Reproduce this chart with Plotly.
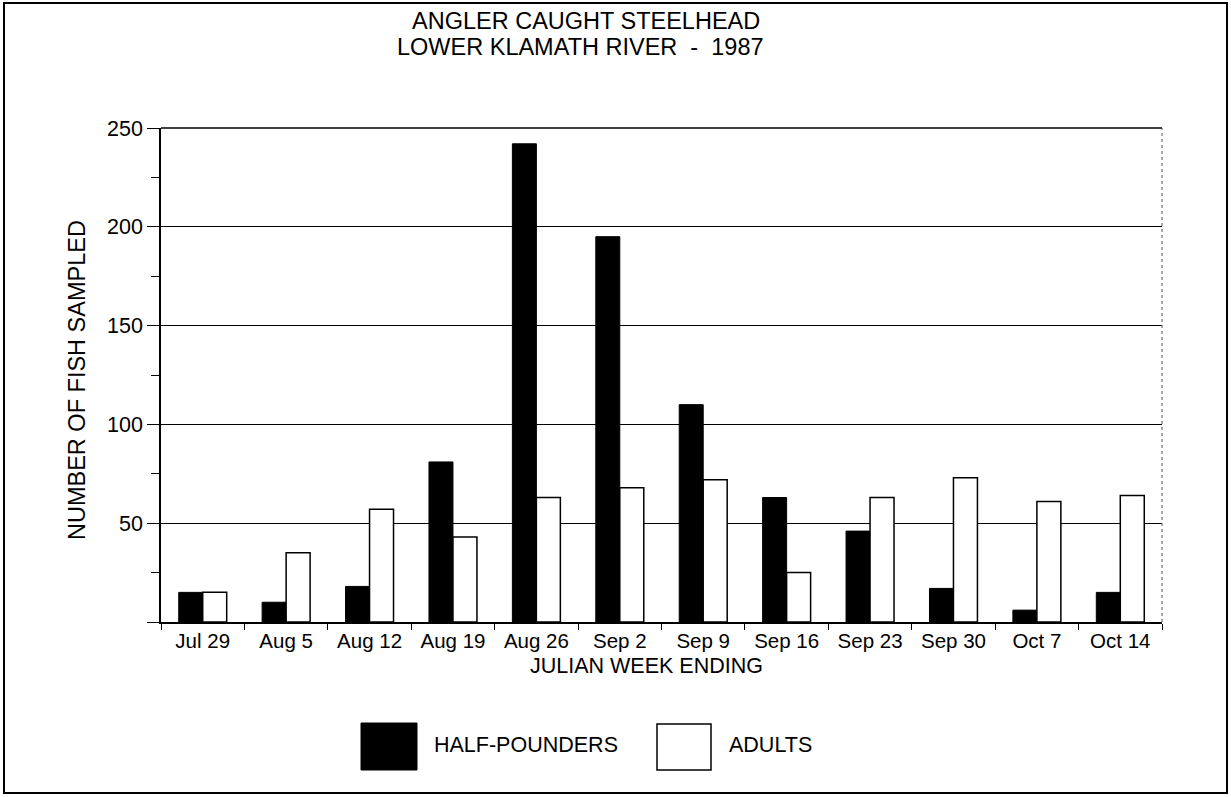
import plotly.graph_objects as go

weeks = ["Jul 29", "Aug 5", "Aug 12", "Aug 19", "Aug 26", "Sep 2", "Sep 9",
         "Sep 16", "Sep 23", "Sep 30", "Oct 7", "Oct 14"]
half_pounders = [15, 10, 18, 81, 242, 195, 110, 63, 46, 17, 6, 15]
adults = [15, 35, 57, 43, 63, 68, 72, 25, 63, 73, 61, 64]
y_ticks = [0, 50, 100, 150, 200, 250]
y_ticktext = ["", "50", "100", "150", "200", "250"]

FONT = "Liberation Sans, Arial, sans-serif"

fig = go.Figure()
fig.add_trace(go.Bar(x=weeks, y=half_pounders, name="HALF-POUNDERS",
                     marker=dict(color="black", line=dict(color="black", width=1))))
fig.add_trace(go.Bar(x=weeks, y=adults, name="ADULTS",
                     marker=dict(color="white", line=dict(color="black", width=1.5))))

W, H = 1231, 797
L, R, T, B = 161, 69, 128, 175
pw, ph = W - L - R, H - T - B

def px(x):
    return (x - L) / pw

def py(y):
    return (H - B - y) / ph

shapes = [
    # outer frame
    dict(type="rect", xref="paper", yref="paper", x0=px(4), x1=px(1227), y0=py(793), y1=py(3),
         line=dict(color="black", width=2), fillcolor="rgba(0,0,0,0)", layer="below"),
    # top frame line of plot area
    dict(type="line", xref="paper", yref="paper", x0=0, x1=1, y0=1, y1=1,
         line=dict(color="black", width=1.5)),
    # faint right border of plot area
    dict(type="line", xref="paper", yref="paper", x0=1, x1=1, y0=0, y1=1,
         line=dict(color="#555555", width=1, dash="dot")),
    # legend swatches
    dict(type="rect", xref="paper", yref="paper", x0=px(361), x1=px(417), y0=py(770), y1=py(723),
         line=dict(color="black", width=1), fillcolor="black"),
    dict(type="rect", xref="paper", yref="paper", x0=px(657), x1=px(711), y0=py(770), y1=py(724),
         line=dict(color="black", width=1.5), fillcolor="white"),
]

annotations = [
    dict(text="JULIAN WEEK ENDING", xref="paper", yref="paper", x=px(646), y=py(666),
         showarrow=False, font=dict(family=FONT, size=21.5, color="black"), xanchor="center", yanchor="middle"),
    dict(text="NUMBER OF FISH SAMPLED", xref="paper", yref="paper", x=px(77), y=py(380),
         showarrow=False, textangle=-90, font=dict(family=FONT, size=23.5, color="black"),
         xanchor="center", yanchor="middle"),
    dict(text="HALF-POUNDERS", xref="paper", yref="paper", x=px(432), y=py(745),
         showarrow=False, font=dict(family=FONT, size=21.5, color="black"), xanchor="left", yanchor="middle"),
    dict(text="ADULTS", xref="paper", yref="paper", x=px(727), y=py(745),
         showarrow=False, font=dict(family=FONT, size=21.5, color="black"), xanchor="left", yanchor="middle"),
    dict(text="ANGLER CAUGHT STEELHEAD", xref="paper", yref="paper", x=px(586), y=py(21),
         showarrow=False, font=dict(family=FONT, size=23.5, color="black"), xanchor="center", yanchor="middle"),
    dict(text="LOWER KLAMATH RIVER  -  1987", xref="paper", yref="paper", x=px(580), y=py(47),
         showarrow=False, font=dict(family=FONT, size=23.5, color="black"), xanchor="center", yanchor="middle"),
]

fig.update_layout(
    width=W, height=H,
    margin=dict(l=L, r=R, t=T, b=B, pad=0),
    paper_bgcolor="white", plot_bgcolor="white",
    barmode="group", bargap=0.425, bargroupgap=0,
    showlegend=False,
    font=dict(family=FONT, color="black"),
    shapes=shapes, annotations=annotations,
)
fig.update_xaxes(
    type="category", showgrid=False, showline=True, linecolor="black", linewidth=1.5,
    ticks="outside", tickson="boundaries", ticklen=6, tickcolor="black",
    tickfont=dict(family=FONT, size=20.5, color="black"),
)
fig.update_yaxes(
    range=[0, 250], tickvals=y_ticks, ticktext=y_ticktext,
    showgrid=True, gridcolor="black", gridwidth=1,
    showline=True, linecolor="black", linewidth=1.5, zeroline=False,
    ticks="outside", ticklen=12, tickcolor="black",
    tickfont=dict(family=FONT, size=21.5, color="black"),
    minor=dict(tickvals=[25, 75, 125, 175, 225], ticks="outside", ticklen=8, tickcolor="black"),
)

fig.write_html("out.html", config={"displayModeBar": False},
               post_script="document.body.style.margin='0';document.body.style.overflow='hidden';")
